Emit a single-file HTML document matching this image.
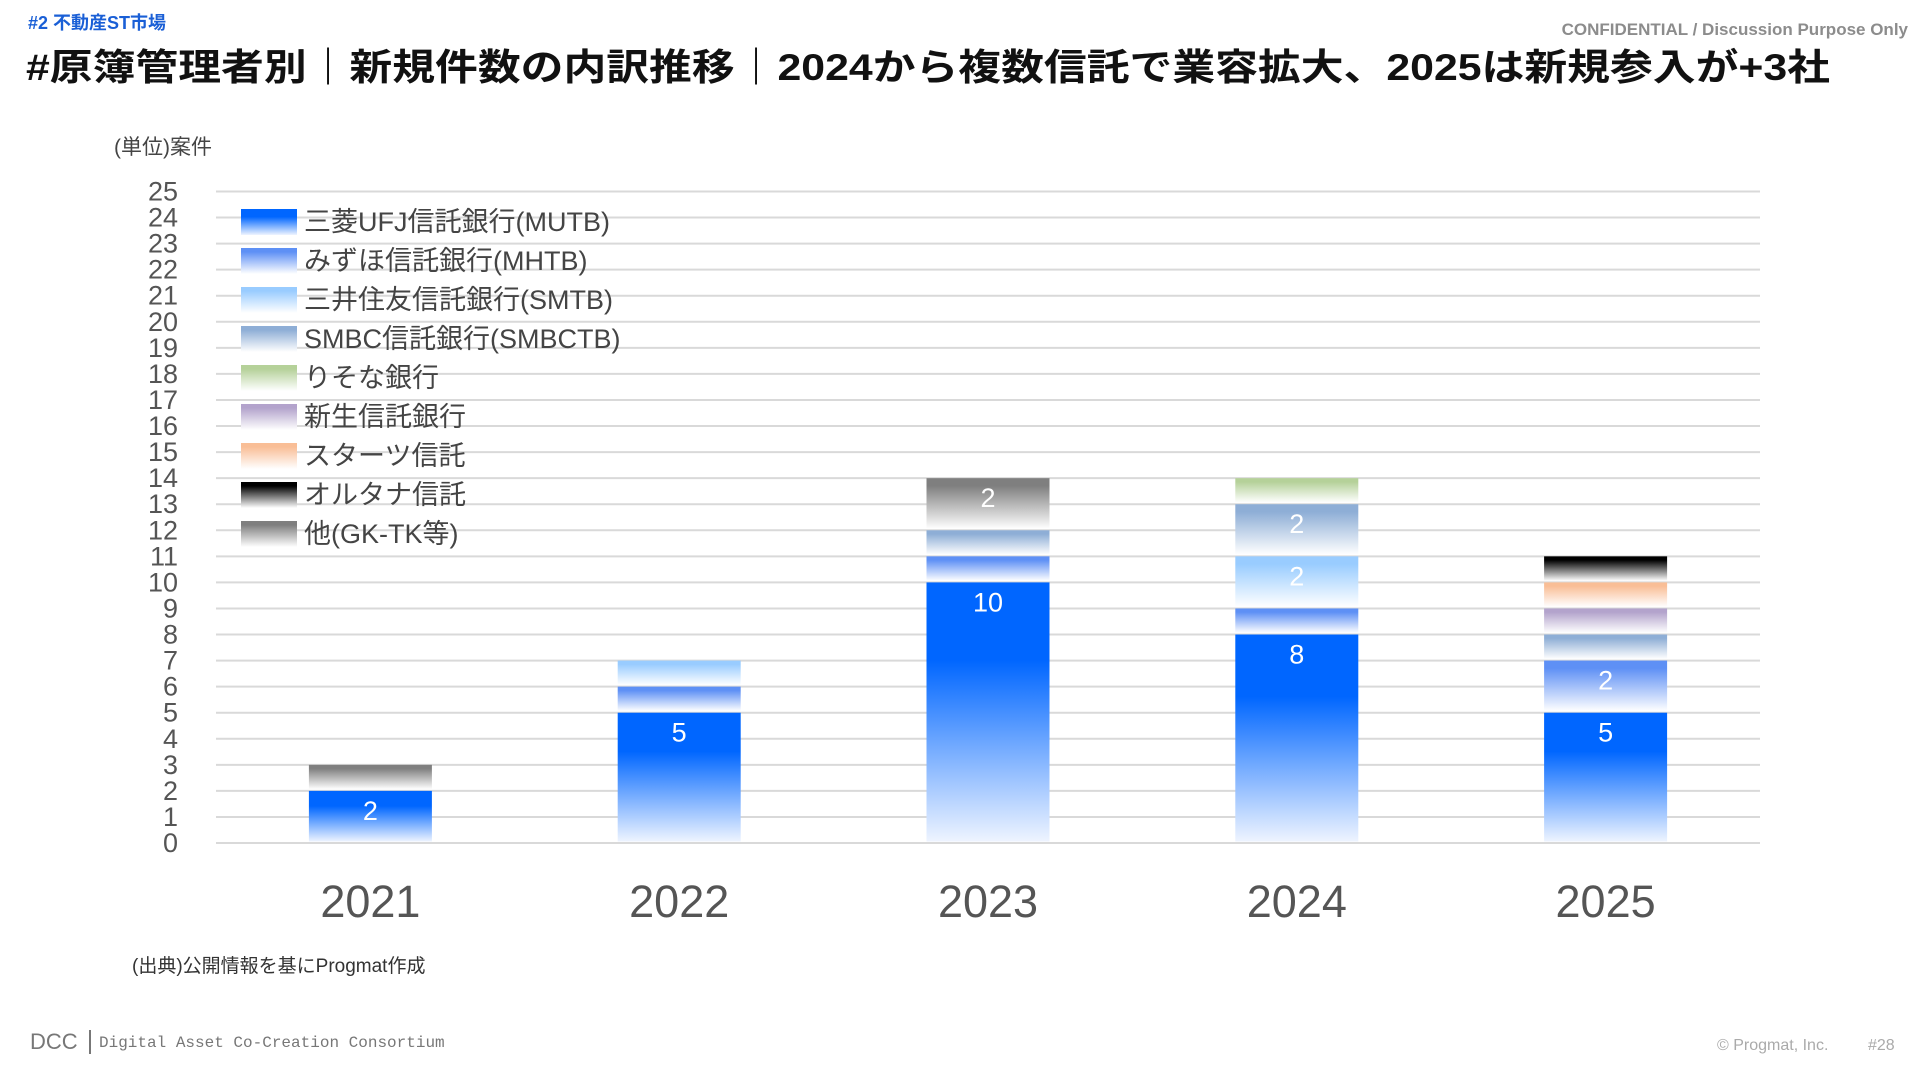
<!DOCTYPE html>
<html><head><meta charset="utf-8">
<style>
body{margin:0;width:1920px;height:1080px;background:#fff;overflow:hidden;font-family:"Liberation Sans","Noto Sans CJK JP",sans-serif;}
svg{position:absolute;left:0;top:0}
</style></head>
<body>
<svg id="chart" width="1920" height="1080" viewBox="0 0 1920 1080" xmlns="http://www.w3.org/2000/svg">
<defs id="defs"></defs>
<text x="28" y="29" font-size="18" font-weight="bold" fill="#1a5fd6" font-family="Liberation Sans,Noto Sans CJK JP,sans-serif">#2 不動産ST市場</text>
<text x="1908" y="35" text-anchor="end" font-size="17" font-weight="bold" fill="#8c8c8c" font-family="Liberation Sans,Noto Sans CJK JP,sans-serif">CONFIDENTIAL / Discussion Purpose Only</text>
<text x="26" y="80" font-size="37" font-weight="bold" fill="#111" textLength="1804" lengthAdjust="spacingAndGlyphs" font-family="Liberation Sans,Noto Sans CJK JP,sans-serif">#原簿管理者別｜新規件数の内訳推移｜2024から複数信託で業容拡大、2025は新規参入が+3社</text>
<text x="114" y="154" font-size="21" fill="#444" font-family="Liberation Sans,Noto Sans CJK JP,sans-serif">(単位)案件</text>
<g id="grid"></g>
<g id="yticks"></g>
<g id="bars"></g>
<g id="xlabels"></g>
<g id="legend"></g>
<text x="132" y="972" font-size="19" fill="#333" font-family="Liberation Sans,Noto Sans CJK JP,sans-serif">(出典)公開情報を基にProgmat作成</text>
<text x="30" y="1049" font-size="22" fill="#777" font-family="Liberation Sans,sans-serif">DCC</text>
<rect x="89" y="1030" width="2" height="24" fill="#777"/>
<text x="99" y="1047" font-size="16" fill="#777" font-family="Liberation Mono,monospace">Digital Asset Co-Creation Consortium</text>
<text x="1717" y="1050" font-size="16" fill="#aaa" font-family="Liberation Sans,sans-serif">© Progmat, Inc.</text>
<text x="1868" y="1050" font-size="16" fill="#aaa" font-family="Liberation Sans,sans-serif">#28</text>
</svg>
<script>
const years = ["2021","2022","2023","2024","2025"];
const seriesNames = ["三菱UFJ信託銀行(MUTB)","みずほ信託銀行(MHTB)","三井住友信託銀行(SMTB)","SMBC信託銀行(SMBCTB)","りそな銀行","新生信託銀行","スターツ信託","オルタナ信託","他(GK-TK等)"];
const mutb = [2,5,10,8,5];
const mhtb = [0,1,1,1,2];
const smtb = [0,1,0,2,0];
const smbctb = [0,0,1,2,1];
const resona = [0,0,0,1,0];
const shinsei = [0,0,0,0,1];
const starts = [0,0,0,0,1];
const alterna = [0,0,0,0,1];
const other = [1,0,2,0,0];
const yTicks = [0,1,2,3,4,5,6,7,8,9,10,11,12,13,14,15,16,17,18,19,20,21,22,23,24,25];

const series = [mutb,mhtb,smtb,smbctb,resona,shinsei,starts,alterna,other];
const colors = ["#0066ff","#5e90f5","#99ccff","#8eaed6","#b5d199","#b3a3cc","#f9be96","#000000","#7f7f7f"];
const NS="http://www.w3.org/2000/svg";
const FONT='Liberation Sans, Noto Sans CJK JP, sans-serif';
const x0=216,x1=1760,yBase=843,yTop=191.5,yMax=25;
const y=v=>yBase-(yBase-yTop)*v/yMax;
const band=(x1-x0)/years.length;
const xc=i=>x0+band*(i+0.5);
const barW=123;
function mk(tag,attrs,parent){const e=document.createElementNS(NS,tag);for(const k in attrs)e.setAttribute(k,attrs[k]);parent.appendChild(e);return e;}
const defs=document.getElementById('defs');
colors.forEach((c,i)=>{
  const g=mk('linearGradient',{id:'g'+i,x1:0,y1:0,x2:0,y2:1},defs);
  mk('stop',{offset:'0','stop-color':c},g);
  mk('stop',{offset:i===0?'0.3':'0.15','stop-color':c},g);
  mk('stop',{offset:'1','stop-color':i===0?'#eef4ff':'#ffffff'},g);
});
const grid=document.getElementById('grid'),yt=document.getElementById('yticks');
yTicks.forEach(t=>{
  const l=mk('line',{x1:x0,x2:x1,y1:y(t),y2:y(t),stroke:'#d9d9d9','stroke-width':2},grid);
  
  
  const tx=mk('text',{x:178,y:y(t)+9,'text-anchor':'end','font-size':27,fill:'#555','font-family':FONT},yt);
  tx.textContent=t;
  
  
});
const bars=document.getElementById('bars'),xl=document.getElementById('xlabels');
years.forEach((yr,i)=>{
  let acc=0;
  series.forEach((s,j)=>{
    const v=s[i]; if(!v) return;
    const top=y(acc+v),bot=y(acc);
    const r=mk('rect',{x:xc(i)-barW/2,y:top,width:barW,height:bot-top-1.5,fill:'url(#g'+j+')'},bars);
    
    
    if(v>=2){
      const t=mk('text',{x:xc(i),y:top+29,'text-anchor':'middle','font-size':27,fill:'#fff','font-family':FONT},bars);
      t.textContent=v;
      
      
    }
    acc+=v;
  });
  const t=mk('text',{x:xc(i),y:917,'text-anchor':'middle','font-size':45,fill:'#555','font-family':FONT},xl);
  t.textContent=yr;
  
  
});
const lg=document.getElementById('legend');
seriesNames.forEach((n,j)=>{
  const yy=209+j*39;
  const r=mk('rect',{x:241,y:yy,width:56,height:26,fill:'url(#g'+j+')'},lg);
  
  
  const t=mk('text',{x:304,y:yy+22,'font-size':27,fill:'#444','font-family':FONT},lg);
  t.textContent=n;
  
  
});
</script>
</body></html>
